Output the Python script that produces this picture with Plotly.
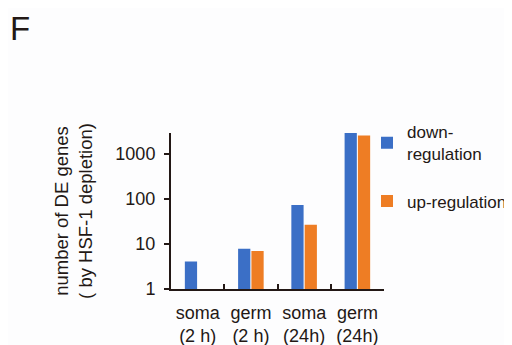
import plotly.graph_objects as go

categories = ["soma<br>(2 h)", "germ<br>(2 h)", "soma<br>(24h)", "germ<br>(24h)"]
down_regulation = [4.1, 7.9, 74, 2950]
up_regulation = [None, 7.0, 27, 2600]
y_tickvals = [1, 10, 100, 1000]
y_ticktext = ["1", "10", "100", "1000"]

TXT = "#231815"
FONT = "Liberation Sans, Arial, sans-serif"

# page has an 8px body margin, so the figure is drawn 8px smaller and offset
W, H = 504, 337
L, T, R, B = 163, 125, 128, 56
PW, PH = W - L - R, H - T - B

fig = go.Figure()
fig.add_trace(go.Bar(x=categories, y=down_regulation, name="down-<br>regulation",
                     marker=dict(color="#3B6FC6", line=dict(width=0)), legendgroup="a"))
fig.add_trace(go.Bar(x=categories, y=up_regulation, name="up-regulation",
                     marker=dict(color="#EE7D24", line=dict(width=0)), legendgroup="b"))

fig.update_layout(
    width=W, height=H,
    margin=dict(l=L, r=R, t=T, b=B, autoexpand=False),
    paper_bgcolor="#FDFDFE", plot_bgcolor="#FDFDFE",
    font=dict(family=FONT, size=18, color=TXT),
    barmode="group", bargap=0.5, bargroupgap=0.08,
    showlegend=True,
    legend=dict(xref="container", yref="container", x=1.0, y=0.685,
                xanchor="right", yanchor="top", tracegroupgap=22,
                font=dict(size=17, color=TXT), bgcolor="rgba(0,0,0,0)",
                itemwidth=30),
    annotations=[dict(text="F", xref="paper", yref="paper", x=-L / PW, y=1 + T / PH,
                      xanchor="left", yanchor="top", showarrow=False,
                      font=dict(size=33, color=TXT), xshift=0, yshift=0)],
)
fig.update_yaxes(type="log", range=[0, 3.47], tickvals=y_tickvals, ticktext=y_ticktext,
                 ticks="outside", ticklen=5, tickwidth=2, tickcolor=TXT,
                 showline=True, linewidth=2, linecolor=TXT, showgrid=False, zeroline=False,
                 tickfont=dict(size=18, color=TXT), ticklabelstandoff=5,
                 title=dict(text="number of DE genes<br>( by HSF-1 depletion)",
                            font=dict(size=18.5, color=TXT), standoff=18))
fig.update_xaxes(type="category", tickson="boundaries", ticks="inside", ticklen=5,
                 tickwidth=2, tickcolor=TXT, showline=True, linewidth=2, linecolor=TXT,
                 showgrid=False, tickangle=0, ticklabelstandoff=6,
                 tickfont=dict(size=18, color=TXT))

fig.write_html("out.html")
